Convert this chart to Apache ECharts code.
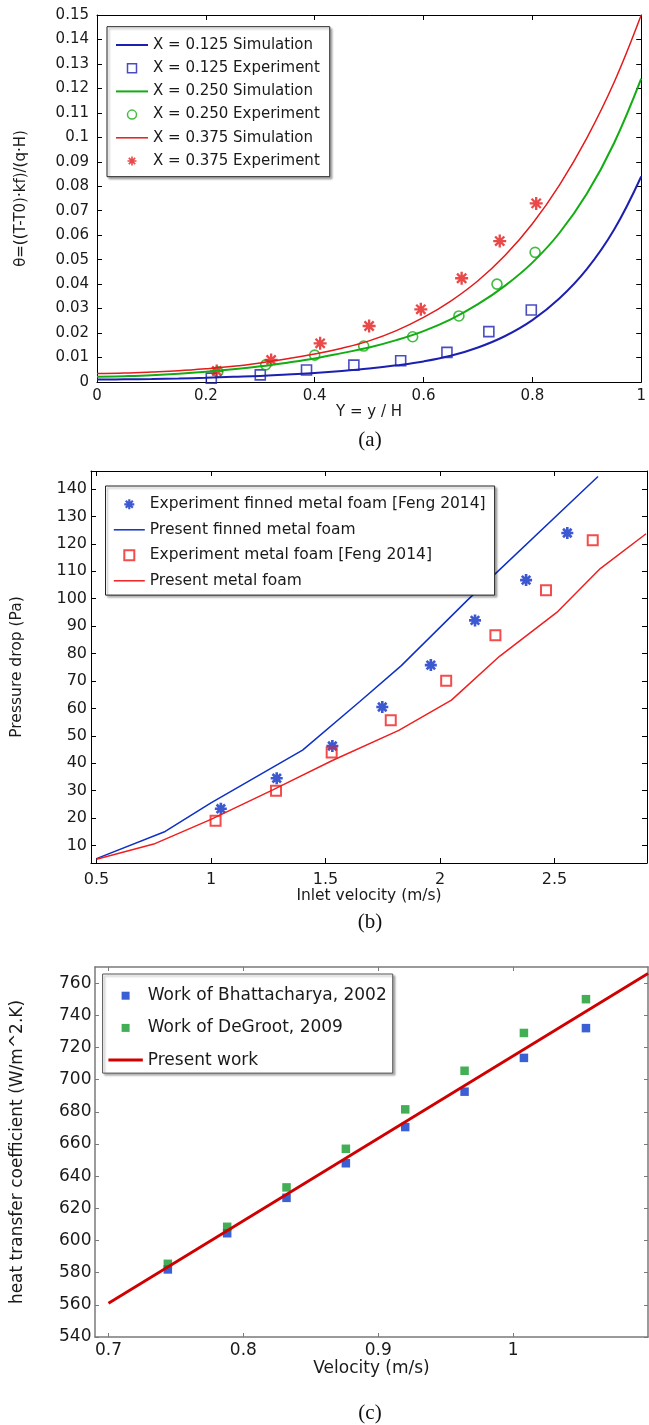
<!DOCTYPE html>
<html><head><meta charset="utf-8">
<script src="https://cdn.jsdelivr.net/npm/echarts@6/dist/echarts.min.js"></script>
<style>html,body{margin:0;padding:0;background:#fff}#chart{width:649px;height:1425px}</style>
</head><body><div id="chart"></div>
<script>
// ---------- (a) dimensionless temperature ----------
const simX      = [0, 0.05, 0.1, 0.15, 0.2, 0.25, 0.3, 0.35, 0.4, 0.45, 0.5, 0.55, 0.6, 0.65, 0.7, 0.75, 0.8, 0.85, 0.9, 0.95, 1.0];
const simBlue   = [0.001, 0.0011, 0.0012, 0.0014, 0.0017, 0.0021, 0.0025, 0.0031, 0.0037, 0.0045, 0.0055, 0.0068, 0.0084, 0.0107, 0.0141, 0.0188, 0.0253, 0.0342, 0.0461, 0.0622, 0.084];
const simGreen  = [0.0021, 0.0024, 0.0028, 0.0034, 0.0042, 0.0052, 0.0064, 0.0079, 0.0096, 0.0118, 0.0141, 0.0171, 0.0208, 0.0256, 0.0318, 0.0394, 0.0488, 0.061, 0.0769, 0.0976, 0.124];
const simRed    = [0.0035, 0.0037, 0.0041, 0.0046, 0.0054, 0.0064, 0.0078, 0.0095, 0.0114, 0.0138, 0.0168, 0.0210, 0.0264, 0.0331, 0.0414, 0.0518, 0.0647, 0.0806, 0.0997, 0.1224, 0.150];
const expBlueX  = [0.21, 0.30, 0.385, 0.472, 0.558, 0.643, 0.72, 0.798];
const expBlueY  = [0.0016, 0.0029, 0.0049, 0.0069, 0.0087, 0.0121, 0.0206, 0.0294];
const expGreenX = [0.222, 0.31, 0.40, 0.49, 0.58, 0.665, 0.735, 0.805];
const expGreenY = [0.0042, 0.007, 0.011, 0.0147, 0.0185, 0.027, 0.040, 0.053];
const expRedX   = [0.22, 0.32, 0.41, 0.50, 0.595, 0.67, 0.74, 0.807];
const expRedY   = [0.0045, 0.009, 0.0158, 0.0229, 0.0297, 0.0424, 0.0576, 0.073];
const namesA = ['X = 0.125 Simulation', 'X = 0.125 Experiment', 'X = 0.250 Simulation',
                'X = 0.250 Experiment', 'X = 0.375 Simulation', 'X = 0.375 Experiment'];

// ---------- (b) pressure drop ----------
const finnedExpX = [1.043, 1.287, 1.53, 1.748, 1.96, 2.153, 2.376, 2.556];
const finnedExpY = [23.4, 34.5, 46.3, 60.5, 75.8, 92.1, 106.8, 124];
const finnedSimX = [0.5, 0.8, 1.0, 1.4, 1.65, 1.83, 2.12, 2.69];
const finnedSimY = [5.2, 15.1, 25.5, 44.8, 62.5, 75.5, 99.5, 144.6];
const foamExpX   = [1.02, 1.284, 1.527, 1.785, 2.027, 2.242, 2.463, 2.667];
const foamExpY   = [19, 30, 43.9, 55.7, 70.1, 86.7, 103.1, 121.3];
const foamSimX   = [0.5, 0.75, 1.0, 1.27, 1.53, 1.82, 2.05, 2.26, 2.51, 2.7, 2.9];
const foamSimY   = [5, 10.5, 19.5, 30.3, 41, 52, 63, 79, 95, 111, 123.7];
const ticksBX = [0.5, 1, 1.5, 2, 2.5];
const ticksBY = [10, 20, 30, 40, 50, 60, 70, 80, 90, 100, 110, 120, 130, 140];
const namesB = ['Experiment finned metal foam [Feng 2014]', 'Present finned metal foam',
                'Experiment metal foam [Feng 2014]', 'Present metal foam'];

// ---------- (c) heat transfer coefficient ----------
const velX    = [0.744, 0.788, 0.832, 0.876, 0.92, 0.964, 1.008, 1.054];
const bhatY   = [582, 604.5, 626.5, 648, 670.5, 692.5, 713.5, 732];
const degrY   = [585.5, 608.5, 633, 657, 681.5, 705.5, 729, 750];
const presX   = [0.7, 1.1];
const presY   = [561, 766];
const ticksCX = [0.7, 0.8, 0.9, 1];
const ticksCY = [540, 560, 580, 600, 620, 640, 660, 680, 700, 720, 740, 760];
const namesC = ['Work of Bhattacharya, 2002', 'Work of DeGroot, 2009', 'Present work'];

// ---------- styling ----------
const FONT = '"DejaVu Sans", sans-serif';
const TXT = '#1a1a1a';
const BLUE_A = '#1c20b0', GREEN_A = '#12ad12', RED_A = '#e41b1b';
const BLUE_B = '#0d30c6', RED_B = '#f01f1f';
const BLUE_C = '#0a38c8', GREEN_C = '#139a2c', RED_C = '#d00000';
const CLEAR = 'rgba(0,0,0,0)';
const SQUARE = 'path://M0,0H10V10H0Z';
const bar = (w, t) => `path://M0,0H${w}V${t}H0Z`;

function asterisk(w) {
  const a = 7.07, d = 0.707 * w;
  const f = n => n.toFixed(2);
  return 'path://' +
    `M${f(-w)},-10L${f(w)},-10L${f(w)},10L${f(-w)},10Z` +
    `M-10,${f(-w)}L10,${f(-w)}L10,${f(w)}L-10,${f(w)}Z` +
    `M${f(-a + d)},${f(-a - d)}L${f(a + d)},${f(a - d)}L${f(a - d)},${f(a + d)}L${f(-a - d)},${f(-a + d)}Z` +
    `M${f(a - d)},${f(-a - d)}L${f(a + d)},${f(-a + d)}L${f(-a + d)},${f(a + d)}L${f(-a - d)},${f(a - d)}Z`;
}
const pairs = (xs, ys) => xs.map((x, i) => [x, ys[i]]);

function axis(o) {
  const col = o.color || '#000';
  const base = {
    gridIndex: o.grid, type: 'value', position: o.position, min: o.min, max: o.max,
    splitLine: { show: false },
    axisLine: { show: true, onZero: false, lineStyle: { color: col, width: o.lw || 1 } },
    axisTick: { show: true, inside: true, length: o.tickLen || 5, lineStyle: { color: col, width: 1 } },
    axisLabel: { show: !!o.labels, margin: o.margin || 6, fontSize: o.fs, fontFamily: FONT, color: TXT },
  };
  if (o.interval != null) base.interval = o.interval;
  if (o.custom) {
    base.axisTick.customValues = o.custom;
    base.axisLabel.customValues = o.custom;
  }
  if (o.name) {
    base.name = o.name; base.nameLocation = 'middle'; base.nameGap = o.nameGap;
    base.nameTextStyle = { fontSize: o.nfs, fontFamily: FONT, color: TXT };
  }
  return base;
}

const chart = echarts.init(document.getElementById('chart'), null, { renderer: 'canvas' });

const option = {
  animation: false,
  backgroundColor: '#fff',
  grid: [
    { left: 97, top: 15, width: 548, height: 367 },
    { left: 91, top: 471, width: 556, height: 392 },
    { left: 95, top: 967, width: 553, height: 370 }
  ],
  xAxis: [
    axis({ grid: 0, position: 'bottom', min: 0, max: 1, interval: 0.2, labels: true, fs: 15, margin: 7,
           name: 'Y = y / H', nameGap: 19.5, nfs: 15 }),
    axis({ grid: 0, position: 'top', min: 0, max: 1, interval: 0.2 }),
    axis({ grid: 1, position: 'bottom', min: 0.476, max: 2.904, custom: ticksBX, labels: true, fs: 16, margin: 8.5,
           name: 'Inlet velocity (m/s)', nameGap: 22, nfs: 15.5 }),
    axis({ grid: 1, position: 'top', min: 0.476, max: 2.904, custom: ticksBX }),
    axis({ grid: 2, position: 'bottom', min: 0.69, max: 1.1, custom: ticksCX, labels: true, fs: 17, margin: 5,
           color: '#7a7a7a', lw: 1.5, tickLen: 4, name: 'Velocity (m/s)', nameGap: 22, nfs: 17 }),
    axis({ grid: 2, position: 'top', min: 0.69, max: 1.1, custom: ticksCX, color: '#7a7a7a', lw: 1.5, tickLen: 4 })
  ],
  yAxis: [
    axis({ grid: 0, position: 'left', min: 0, max: 0.15, interval: 0.01, labels: true, fs: 15, margin: 8,
           name: 'θ=((T-T0)·kf)/(q·H)', nameGap: 68, nfs: 15 }),
    axis({ grid: 0, position: 'right', min: 0, max: 0.15, interval: 0.01 }),
    axis({ grid: 1, position: 'left', min: 3.6, max: 146.6, custom: ticksBY, labels: true, fs: 16, margin: 4,
           name: 'Pressure drop (Pa)', nameGap: 66, nfs: 15.5 }),
    axis({ grid: 1, position: 'right', min: 3.6, max: 146.6, custom: ticksBY }),
    axis({ grid: 2, position: 'left', min: 540, max: 770, custom: ticksCY, labels: true, fs: 17, margin: 3.5,
           color: '#7a7a7a', lw: 1.5, tickLen: 4, name: 'heat transfer coefficient (W/m^2.K)', nameGap: 69, nfs: 17 }),
    axis({ grid: 2, position: 'right', min: 540, max: 770, custom: ticksCY, color: '#7a7a7a', lw: 1.5, tickLen: 4 })
  ],
  legend: [
    {
      orient: 'vertical', left: 107, top: 26.7, padding: [9.3, 10, 6.7, 9],
      itemWidth: 32, itemHeight: 9, itemGap: 5.2, symbolKeepAspect: true,
      backgroundColor: '#fff', borderColor: '#222', borderWidth: 1,
      shadowColor: 'rgba(0,0,0,0.3)', shadowBlur: 2, shadowOffsetX: 2, shadowOffsetY: 2,
      textStyle: { fontFamily: FONT, fontSize: 15, color: TXT, lineHeight: 18 },
      selectedMode: false,
      data: [
        { name: namesA[0], icon: bar(32, 2), itemStyle: { color: BLUE_A } },
        { name: namesA[1], icon: SQUARE, itemStyle: { color: CLEAR, borderColor: BLUE_A, borderWidth: 1.5 } },
        { name: namesA[2], icon: bar(32, 2), itemStyle: { color: GREEN_A } },
        { name: namesA[3], itemStyle: { color: CLEAR, borderColor: GREEN_A, borderWidth: 1.5 } },
        { name: namesA[4], icon: bar(32, 1.5), itemStyle: { color: RED_A } },
        { name: namesA[5] }
      ]
    },
    {
      orient: 'vertical', left: 105.5, top: 486, padding: [9.3, 9, 5.3, 8.3],
      itemWidth: 31, itemHeight: 10, itemGap: 7.5, symbolKeepAspect: true,
      backgroundColor: '#fff', borderColor: '#222', borderWidth: 1,
      shadowColor: 'rgba(0,0,0,0.3)', shadowBlur: 2, shadowOffsetX: 2, shadowOffsetY: 2,
      textStyle: { fontFamily: FONT, fontSize: 15.5, color: TXT, lineHeight: 18 },
      selectedMode: false,
      data: [
        { name: namesB[0] },
        { name: namesB[1], icon: bar(31, 1.5), itemStyle: { color: BLUE_B } },
        { name: namesB[2], icon: SQUARE, itemStyle: { color: CLEAR, borderColor: RED_B, borderWidth: 2 } },
        { name: namesB[3], icon: bar(31, 1.5), itemStyle: { color: RED_B } }
      ]
    },
    {
      orient: 'vertical', left: 102.6, top: 974, padding: [11.7, 6, 3, 5.8],
      itemWidth: 34.4, itemHeight: 8, itemGap: 12.2, symbolKeepAspect: true,
      backgroundColor: '#fff', borderColor: '#555', borderWidth: 1,
      shadowColor: 'rgba(0,0,0,0.3)', shadowBlur: 2, shadowOffsetX: 2, shadowOffsetY: 2,
      textStyle: { fontFamily: FONT, fontSize: 17, color: TXT, lineHeight: 20 },
      selectedMode: false,
      data: [
        { name: namesC[0], icon: SQUARE },
        { name: namesC[1], icon: SQUARE },
        { name: namesC[2], icon: bar(34.4, 3), itemStyle: { color: RED_C } }
      ]
    }
  ],
  graphic: [
    { type: 'text', x: 370, y: 440, style: { text: '(a)', font: '21px "Liberation Serif", serif', fill: '#111', align: 'center', verticalAlign: 'middle' } },
    { type: 'text', x: 370, y: 922, style: { text: '(b)', font: '21px "Liberation Serif", serif', fill: '#111', align: 'center', verticalAlign: 'middle' } },
    { type: 'text', x: 370, y: 1413, style: { text: '(c)', font: '21px "Liberation Serif", serif', fill: '#111', align: 'center', verticalAlign: 'middle' } }
  ],
  series: [
    // (a) simulations
    { name: namesA[0], type: 'line', xAxisIndex: 0, yAxisIndex: 0, data: pairs(simX, simBlue), symbol: 'none',
      smooth: 0.4, lineStyle: { color: BLUE_A, width: 2 }, itemStyle: { color: BLUE_A } },
    { name: namesA[2], type: 'line', xAxisIndex: 0, yAxisIndex: 0, data: pairs(simX, simGreen), symbol: 'none',
      smooth: 0.4, lineStyle: { color: GREEN_A, width: 2 }, itemStyle: { color: GREEN_A } },
    { name: namesA[4], type: 'line', xAxisIndex: 0, yAxisIndex: 0, data: pairs(simX, simRed), symbol: 'none',
      smooth: 0.4, lineStyle: { color: RED_A, width: 1.5 }, itemStyle: { color: RED_A } },
    // (a) experiments
    { name: namesA[1], type: 'scatter', xAxisIndex: 0, yAxisIndex: 0, data: pairs(expBlueX, expBlueY),
      symbol: 'rect', symbolSize: 10, itemStyle: { color: CLEAR, borderColor: BLUE_A, borderWidth: 1.6 } },
    { name: namesA[3], type: 'scatter', xAxisIndex: 0, yAxisIndex: 0, data: pairs(expGreenX, expGreenY),
      symbol: 'circle', symbolSize: 10, itemStyle: { color: CLEAR, borderColor: GREEN_A, borderWidth: 1.6 } },
    { name: namesA[5], type: 'scatter', xAxisIndex: 0, yAxisIndex: 0, data: pairs(expRedX, expRedY),
      symbol: asterisk(1.8), symbolSize: 13, itemStyle: { color: RED_A } },
    // (b)
    { name: namesB[1], type: 'line', xAxisIndex: 2, yAxisIndex: 2, data: pairs(finnedSimX, finnedSimY), symbol: 'none',
      lineStyle: { color: BLUE_B, width: 1.5 }, itemStyle: { color: BLUE_B } },
    { name: namesB[3], type: 'line', xAxisIndex: 2, yAxisIndex: 2, data: pairs(foamSimX, foamSimY), symbol: 'none',
      lineStyle: { color: RED_B, width: 1.5 }, itemStyle: { color: RED_B } },
    { name: namesB[0], type: 'scatter', xAxisIndex: 2, yAxisIndex: 2, data: pairs(finnedExpX, finnedExpY),
      symbol: asterisk(2.2), symbolSize: 12, itemStyle: { color: BLUE_B } },
    { name: namesB[2], type: 'scatter', xAxisIndex: 2, yAxisIndex: 2, data: pairs(foamExpX, foamExpY),
      symbol: 'rect', symbolSize: 10, itemStyle: { color: CLEAR, borderColor: RED_B, borderWidth: 2 } },
    // (c)
    { name: namesC[0], type: 'scatter', xAxisIndex: 4, yAxisIndex: 4, data: pairs(velX, bhatY),
      symbol: 'rect', symbolSize: 8.5, itemStyle: { color: BLUE_C } },
    { name: namesC[1], type: 'scatter', xAxisIndex: 4, yAxisIndex: 4, data: pairs(velX, degrY),
      symbol: 'rect', symbolSize: 8.5, itemStyle: { color: GREEN_C } },
    { name: namesC[2], type: 'line', xAxisIndex: 4, yAxisIndex: 4, data: pairs(presX, presY), symbol: 'none',
      lineStyle: { color: RED_C, width: 2.8 }, itemStyle: { color: RED_C } }
  ]
};
chart.setOption(option);
</script>
</body></html>
